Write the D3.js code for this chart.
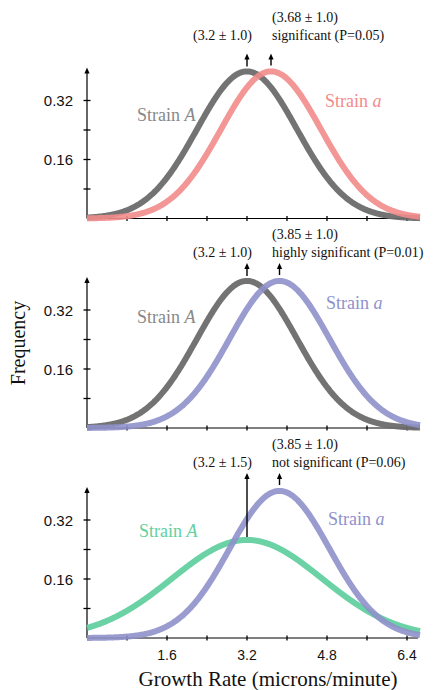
<!DOCTYPE html>
<html>
<head>
<meta charset="utf-8">
<script src="https://cdn.jsdelivr.net/npm/d3@7"></script>
<style>
  html, body { margin: 0; padding: 0; background: #fff; }
  svg { display: block; }
</style>
</head>
<body>
<svg id="chart" width="435" height="690"></svg>
<script>
// ---- data ----
const meansA = [3.2, 3.2, 3.2];
const sdsA   = [1.0, 1.0, 1.5];
const meansB = [3.68, 3.85, 3.85];
const sdsB   = [1.0, 1.0, 1.0];
const labelsA = ["(3.2 \u00b1 1.0)", "(3.2 \u00b1 1.0)", "(3.2 \u00b1 1.5)"];
const labelsB = ["(3.68 \u00b1 1.0)", "(3.85 \u00b1 1.0)", "(3.85 \u00b1 1.0)"];
const significance = ["significant (P=0.05)", "highly significant (P=0.01)", "not significant (P=0.06)"];
const seriesNameA = "Strain ";
const seriesItalicA = "A";
const seriesItalicB = "a";
const xTickValues = [0.8, 1.6, 2.4, 3.2, 4.0, 4.8, 5.6, 6.4];
const xTickLabels = [1.6, 3.2, 4.8, 6.4];
const yTickValues = [0.08, 0.16, 0.24, 0.32];
const yTickLabels = [0.16, 0.32];
const xDomain = [0, 6.66];

// ---- styles / layout ----
const colorsA = ["#6b6b6b", "#6b6b6b", "#62d0a0"];
const colorsB = ["#f28b8b", "#8f91cb", "#8f91cb"];
const textColorsA = ["#888888", "#888888", "#62d0a0"];
const textColorsB = ["#f28b8b", "#8f91cb", "#8f91cb"];
const zeros = [218.5, 428, 638];
const annotOffsets = [[-197, -179], [-189, -171], [-189, -171]];
const strainAOff = [[137, -98], [137, -105], [139, -101]];
const strainBOff = [[325, -112], [326, -119], [328, -113]];

const svg = d3.select("#chart");
const x = d3.scaleLinear().domain(xDomain).range([87, 420]);
const serif = "'Liberation Serif', 'Times New Roman', serif";
const sans = "'Liberation Sans', Arial, Helvetica, sans-serif";

function pdf(m, s, v) {
  return Math.exp(-0.5 * ((v - m) / s) ** 2) / (s * Math.sqrt(2 * Math.PI));
}
const samples = d3.range(0, 401).map(i => xDomain[0] + (xDomain[1] - xDomain[0]) * i / 400);

function arrowHead(g, cx, tipY) {
  g.append("path")
    .attr("d", `M${cx},${tipY} L${cx - 2.6},${tipY + 6} L${cx + 2.6},${tipY + 6} Z`)
    .attr("fill", "#000");
}

for (let p = 0; p < 3; p++) {
  const z = zeros[p];
  const y = d3.scaleLinear().domain([0, 0.16]).range([z, z - 59]);
  const g = svg.append("g");

  // y axis
  g.append("line").attr("x1", x(0)).attr("x2", x(0)).attr("y1", z).attr("y2", z - 148)
    .attr("stroke", "#000").attr("stroke-width", 1.2);
  arrowHead(g, x(0), z - 151);
  yTickValues.forEach(v => {
    g.append("line").attr("x1", x(0) - 3.5).attr("x2", x(0) + 3.5)
      .attr("y1", y(v)).attr("y2", y(v)).attr("stroke", "#000").attr("stroke-width", 1.3);
  });
  yTickLabels.forEach(v => {
    g.append("text").attr("x", 73).attr("y", y(v) + 5.5)
      .attr("text-anchor", "end").attr("font-family", sans).attr("font-size", 15)
      .attr("fill", "#111").text(v.toFixed(2));
  });

  // x axis
  g.append("line").attr("x1", x(0)).attr("x2", x(xDomain[1]) - 2).attr("y1", z).attr("y2", z)
    .attr("stroke", "#000").attr("stroke-width", 1.2);
  xTickValues.forEach(v => {
    g.append("line").attr("x1", x(v)).attr("x2", x(v)).attr("y1", z - 2.5).attr("y2", z + 2.5)
      .attr("stroke", "#000").attr("stroke-width", 1.3);
  });
  if (p === 2) {
    xTickLabels.forEach(v => {
      g.append("text").attr("x", x(v)).attr("y", z + 22)
        .attr("text-anchor", "middle").attr("font-family", sans).attr("font-size", 14)
        .attr("fill", "#111").text(v.toFixed(1));
    });
  }

  // curves
  const line = d3.line().x(d => x(d[0])).y(d => y(d[1])).curve(d3.curveBasis);
  const dataA = samples.map(v => [v, pdf(meansA[p], sdsA[p], v)]);
  const dataB = samples.map(v => [v, pdf(meansB[p], sdsB[p], v)]);
  g.append("path").datum(dataA).attr("d", line).attr("fill", "none")
    .attr("stroke", colorsA[p]).attr("stroke-width", 6).attr("stroke-opacity", 0.95);
  g.append("path").datum(dataB).attr("d", line).attr("fill", "none")
    .attr("stroke", colorsB[p]).attr("stroke-width", 6).attr("stroke-opacity", 0.9);

  // arrows over the means
  const peakA = y(pdf(meansA[p], sdsA[p], meansA[p]));
  const tipY = z - 165;
  const botA = p === 2 ? peakA - 3 : z - 152;
  const botB = z - 153;
  g.append("line").attr("x1", x(meansA[p])).attr("x2", x(meansA[p]))
    .attr("y1", botA).attr("y2", tipY + 4).attr("stroke", "#000").attr("stroke-width", 1.4);
  arrowHead(g, x(meansA[p]), tipY);
  g.append("line").attr("x1", x(meansB[p])).attr("x2", x(meansB[p]))
    .attr("y1", botB).attr("y2", tipY + 4).attr("stroke", "#000").attr("stroke-width", 1.4);
  arrowHead(g, x(meansB[p]), tipY);

  // annotations
  const [o1, o2] = annotOffsets[p];
  g.append("text").attr("x", 252).attr("y", z + o2).attr("text-anchor", "end")
    .attr("font-family", serif).attr("font-size", 14).attr("fill", "#111").text(labelsA[p]);
  g.append("text").attr("x", 272).attr("y", z + o1)
    .attr("font-family", serif).attr("font-size", 14).attr("fill", "#111").text(labelsB[p]);
  g.append("text").attr("x", 272).attr("y", z + o2)
    .attr("font-family", serif).attr("font-size", 14).attr("fill", "#111").text(significance[p]);

  // strain labels
  const tA = g.append("text").attr("x", strainAOff[p][0]).attr("y", z + strainAOff[p][1])
    .attr("font-family", serif).attr("font-size", 18).attr("fill", textColorsA[p]);
  tA.append("tspan").text(seriesNameA);
  tA.append("tspan").attr("font-style", "italic").text(seriesItalicA);
  const tB = g.append("text").attr("x", strainBOff[p][0]).attr("y", z + strainBOff[p][1])
    .attr("font-family", serif).attr("font-size", 18).attr("fill", textColorsB[p]);
  tB.append("tspan").text(seriesNameA);
  tB.append("tspan").attr("font-style", "italic").text(seriesItalicB);
}

// axis titles
svg.append("text").attr("transform", "translate(25,343) rotate(-90)")
  .attr("text-anchor", "middle").attr("font-family", serif).attr("font-size", 20)
  .attr("fill", "#111").text("Frequency");
svg.append("text").attr("x", 268).attr("y", 686)
  .attr("text-anchor", "middle").attr("font-family", serif).attr("font-size", 21)
  .attr("fill", "#111").text("Growth Rate (microns/minute)");
</script>
</body>
</html>
